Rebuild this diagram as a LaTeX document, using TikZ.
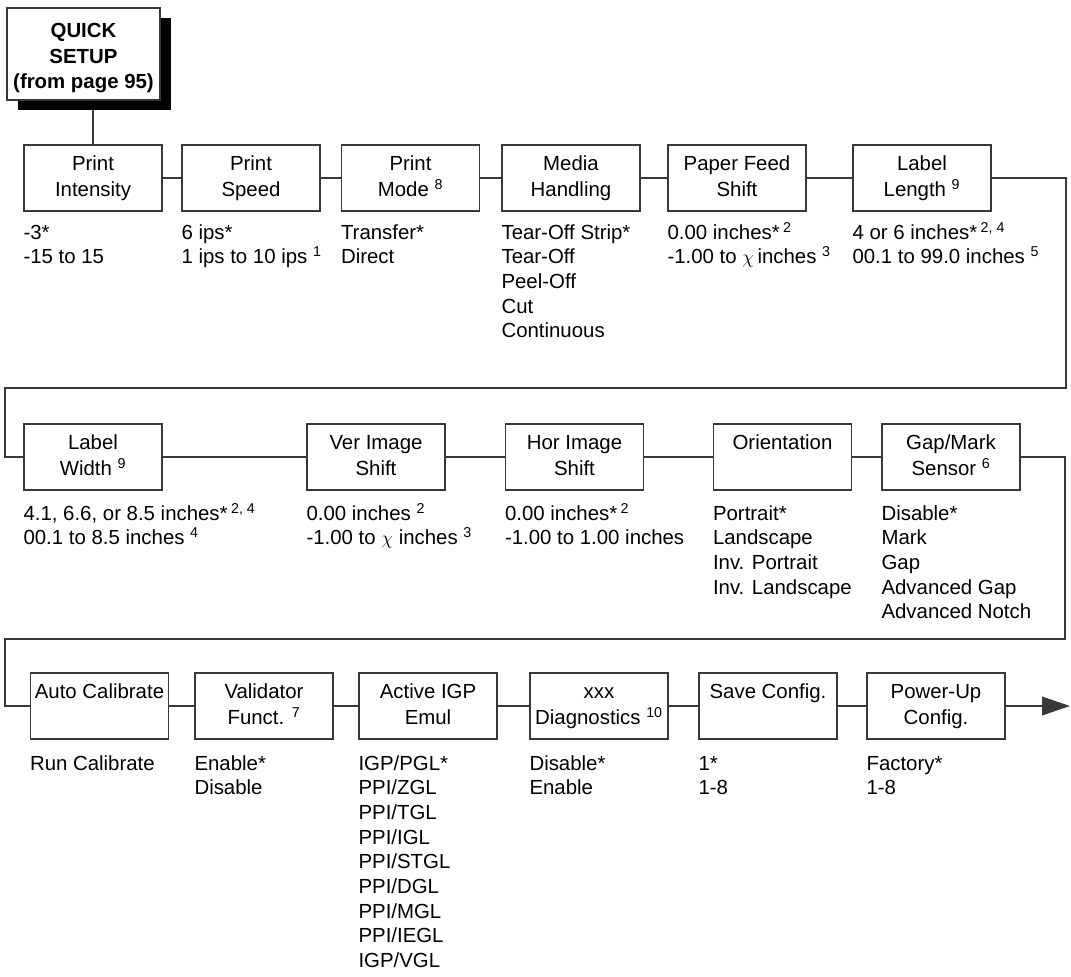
\documentclass[tikz,border=0pt]{standalone}
\usepackage{fontspec}
\setmainfont{Liberation Sans}
\usetikzlibrary{arrows.meta}
\tikzset{
  x=0.75pt, y=-0.75pt,
  lc/.style={draw=black!78, line width=1.1pt},
  mbox/.style={lc, rectangle, fill=white, minimum width=103.5pt, minimum height=49.5pt,
    inner sep=0pt, align=center, font=\fontsize{15.3}{19.5}\selectfont},
  lst/.style={anchor=north west, inner sep=0pt, align=left, font=\fontsize{15.3}{18.5}\selectfont},
  conn/.style={lc},
}
\newcommand{\sps}[1]{\textsuperscript{#1}}
\begin{document}
\begin{tikzpicture}
\useasboundingbox (0,0) rectangle (1071,976);

% quick setup
\node[rectangle, fill=black, minimum width=114.75pt, minimum height=69pt, inner sep=0pt] (qs) at (94.5,64) {};
\node[lc, rectangle, fill=white, minimum width=114.75pt, minimum height=69pt, inner sep=0pt, align=center,
  font=\fontsize{15.3}{19.3}\selectfont\bfseries] (q) at (83.5,54) {\rule{0pt}{17pt}QUICK\\SETUP\\(from page 95)};

% row 1
\node[mbox] (b11) at (93,178)  {\strut Print\\\strut Intensity};
\node[mbox] (b12) at (251,178) {\strut Print\\\strut Speed};
\node[mbox] (b13) at (410.5,178) {\strut Print\\\strut Mode \sps{8}};
\node[mbox] (b14) at (571,178) {\strut Media\\\strut Handling};
\node[mbox] (b15) at (737,178) {\strut Paper Feed\\\strut Shift};
\node[mbox] (b16) at (922,178) {\strut Label\\\strut Length \sps{9}};

% row 2
\node[mbox] (b21) at (93,457)   {\strut Label\\\strut Width \sps{9}};
\node[mbox] (b22) at (376,457)  {\strut Ver Image\\\strut Shift};
\node[mbox] (b23) at (574.5,457) {\strut Hor Image\\\strut Shift};
\node[mbox] (b24) at (782.5,457) {\strut Orientation\\\strut};
\node[mbox] (b25) at (951,457)  {\strut Gap/Mark\\\strut Sensor \sps{6}};

% row 3
\node[mbox] (b31) at (99.5,706) {\strut Auto Calibrate\\\strut};
\node[mbox] (b32) at (264,706)  {\strut Validator\\\strut Funct. \sps{7}};
\node[mbox] (b33) at (428,706)  {\strut Active IGP\\\strut Emul};
\node[mbox] (b34) at (599,706)  {\strut xxx\\\strut Diagnostics \sps{10}};
\node[mbox] (b35) at (768,706)  {\strut Save Config.\\\strut};
\node[mbox] (b36) at (936,706)  {\strut Power-Up\\\strut Config.};

% lists row 1
\node[lst] (l11) at ([yshift=-7.5pt]b11.south west) {\strut -3*\\-15 to 15};
\node[lst] (l12) at ([yshift=-7.5pt]b12.south west) {\strut 6 ips*\\1 ips to 10 ips \sps{1}};
\node[lst] (l13) at ([yshift=-7.5pt]b13.south west) {\strut Transfer*\\Direct};
\node[lst] (l14) at ([yshift=-7.5pt]b14.south west) {\strut Tear-Off Strip*\\Tear-Off\\Peel-Off\\Cut\\Continuous};
\node[lst] (l15) at ([yshift=-7.5pt]b15.south west) {\strut 0.00 inches*\,\sps{2}\\-1.00 to $\chi$\,inches \sps{3}};
\node[lst] (l16) at ([yshift=-7.5pt]b16.south west) {\strut 4 or 6 inches*\,\sps{2, 4}\\00.1 to 99.0 inches \sps{5}};

% lists row 2
\node[lst] (l21) at ([yshift=-9pt]b21.south west) {\strut 4.1, 6.6, or 8.5 inches*\,\sps{2, 4}\\00.1 to 8.5 inches \sps{4}};
\node[lst] (l22) at ([yshift=-9pt]b22.south west) {\strut 0.00 inches \sps{2}\\-1.00 to $\chi$ inches \sps{3}};
\node[lst] (l23) at ([yshift=-9pt]b23.south west) {\strut 0.00 inches*\,\sps{2}\\-1.00 to 1.00 inches};
\node[lst] (l24) at ([yshift=-9pt]b24.south west) {\strut Portrait*\\Landscape\\Inv. Portrait\\Inv. Landscape};
\node[lst] (l25) at ([yshift=-9pt]b25.south west) {\strut Disable*\\Mark\\Gap\\Advanced Gap\\Advanced Notch};

% lists row 3
\node[lst] (l31) at ([yshift=-9.75pt]b31.south west) {\strut Run Calibrate};
\node[lst] (l32) at ([yshift=-9.75pt]b32.south west) {\strut Enable*\\Disable};
\node[lst] (l33) at ([yshift=-9.75pt]b33.south west) {\strut IGP/PGL*\\PPI/ZGL\\PPI/TGL\\PPI/IGL\\PPI/STGL\\PPI/DGL\\PPI/MGL\\PPI/IEGL\\IGP/VGL};
\node[lst] (l34) at ([yshift=-9.75pt]b34.south west) {\strut Disable*\\Enable};
\node[lst] (l35) at ([yshift=-9.75pt]b35.south west) {\strut 1*\\1-8};
\node[lst] (l36) at ([yshift=-9.75pt]b36.south west) {\strut Factory*\\1-8};

% connectors
\draw[conn] (b11.north) -- (b11.north |- qs.south);
\draw[conn] (b11.east) -- (b12.west);
\draw[conn] (b12.east) -- (b13.west);
\draw[conn] (b13.east) -- (b14.west);
\draw[conn] (b14.east) -- (b15.west);
\draw[conn] (b15.east) -- (b16.west);
\coordinate (r1) at (1066,388);
\coordinate (k1) at (5,388);
\draw[conn] (b16.east) -| (r1) -- (k1) |- (b21.west);
\draw[conn] (b21.east) -- (b22.west);
\draw[conn] (b22.east) -- (b23.west);
\draw[conn] (b23.east) -- (b24.west);
\draw[conn] (b24.east) -- (b25.west);
\coordinate (r2) at (1065,639);
\coordinate (k2) at (5,639);
\draw[conn] (b25.east) -| (r2) -- (k2) |- (b31.west);
\draw[conn] (b31.east) -- (b32.west);
\draw[conn] (b32.east) -- (b33.west);
\draw[conn] (b33.east) -- (b34.west);
\draw[conn] (b34.east) -- (b35.west);
\draw[conn] (b35.east) -- (b36.west);
\coordinate (endp) at (1070,706);
\draw[conn, -{Triangle[length=21pt,width=14pt]}, fill=black] (b36.east) -- (endp);
\end{tikzpicture}
\end{document}
